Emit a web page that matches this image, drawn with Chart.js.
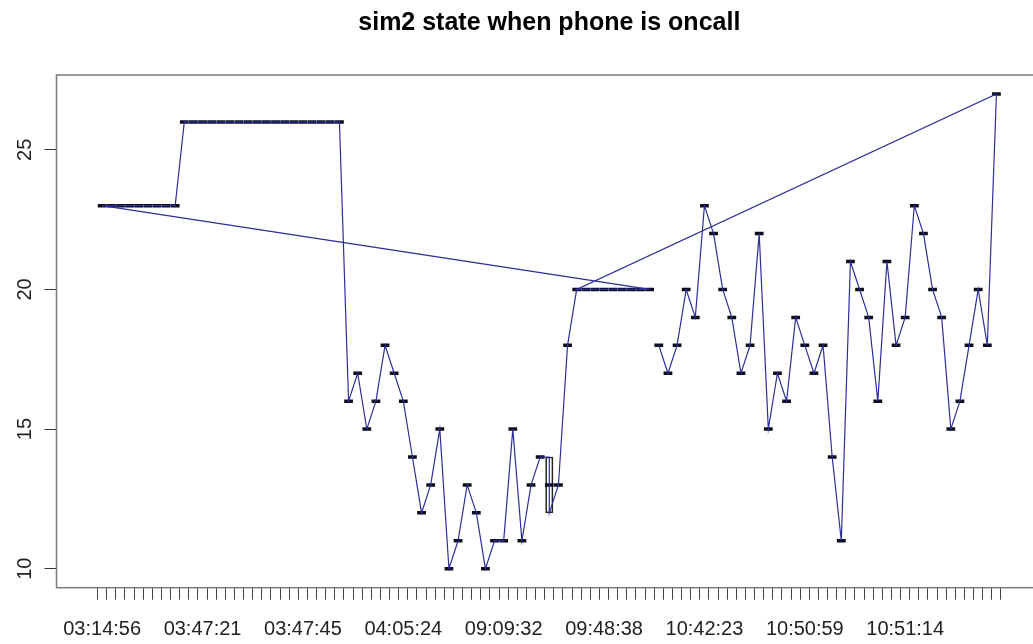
<!DOCTYPE html>
<html>
<head>
<meta charset="utf-8">
<script src="https://cdn.jsdelivr.net/npm/chart.js@4.4.1/dist/chart.umd.min.js"></script>
<style>
  html, body { margin: 0; padding: 0; background: #fff; overflow: hidden; }
  #wrap { width: 1050px; height: 644px; }
</style>
</head>
<body>
<div id="wrap"><canvas id="c" width="1050" height="644"></canvas></div>
<script>
// Timestamp factor: 99 levels, only some of them carry a printed label
const levelCount = 99;
const tickLabels = {
  1: '03:14:56', 12: '03:47:21', 23: '03:47:45', 34: '04:05:24', 45: '09:09:32',
  56: '09:48:38', 67: '10:42:23', 78: '10:50:59', 89: '10:51:14'
};
const yTicks = [10, 15, 20, 25];

// Observations in recorded order: timestamp level and sim2 signal value
const obsLevel = [
  62, 63, 64, 65, 66, 67, 68, 69, 70, 71, 72, 73, 74, 75, 76, 77, 78, 79, 80,
  81, 82, 83, 84, 85, 86, 87, 88, 89, 90, 91, 92, 93, 94, 95, 96, 97, 98, 99,
  53, 54, 55, 56, 57, 58, 59, 60, 61,
  1, 2, 3, 4, 5, 6, 7, 8, 9, 10, 11, 12, 13, 14, 15, 16, 17, 18, 19, 20,
  21, 22, 23, 24, 25, 26, 27, 28, 29, 30, 31, 32, 33, 34, 35, 36, 37, 38, 39,
  40, 41, 42, 43, 44, 45, 46, 47, 48, 49, 50, 50, 51, 52, 53
];
const obsValue = [
  18, 17, 18, 20, 19, 23, 22, 20, 19, 17, 18, 22, 15, 17, 16, 19, 18, 17, 18,
  14, 11, 21, 20, 19, 16, 21, 18, 19, 23, 22, 20, 19, 15, 16, 18, 20, 18, 27,
  20, 20, 20, 20, 20, 20, 20, 20, 20,
  23, 23, 23, 23, 23, 23, 23, 23, 23, 26, 26, 26, 26, 26, 26, 26, 26, 26, 26,
  26, 26, 26, 26, 26, 26, 26, 26, 16, 17, 15, 16, 18, 17, 16, 14, 12, 13, 15,
  10, 11, 13, 12, 10, 11, 11, 15, 11, 13, 14, 14, 12, 13, 18, 20
];

// ---- boxplot statistics per level (Tukey five-number summary) ----
function fivenum(vals) {
  const s = vals.slice().sort((a, b) => a - b);
  const n = s.length;
  const n4 = Math.floor((n + 3) / 2) / 2;
  const idx = [1, n4, (n + 1) / 2, n + 1 - n4, n];
  return idx.map(d => 0.5 * (s[Math.floor(d) - 1] + s[Math.ceil(d) - 1]));
}
const byLevel = {};
obsLevel.forEach((lv, i) => { (byLevel[lv] = byLevel[lv] || []).push(obsValue[i]); });
const medianPts = [];
const boxSpans = [];
Object.keys(byLevel).forEach(k => {
  const f = fivenum(byLevel[k]);
  medianPts.push({ x: +k, y: f[2] });
  if (f[3] > f[1]) boxSpans.push({ x: +k, y: [f[1], f[3]] });
});

// ---- axis ranges, extended 4% on each side ----
const lo = Math.min(...obsValue), hi = Math.max(...obsValue);
const yMin = lo - 0.04 * (hi - lo), yMax = hi + 0.04 * (hi - lo);
const xMin = 0.5 - 0.04 * levelCount, xMax = levelCount + 0.5 + 0.04 * levelCount;

const plotLeft = 56.5, unitPx = 9.22, plotBottom = 587.7;
const plotRight = plotLeft + unitPx * (xMax - xMin);
const FONT = "'Liberation Sans', Arial, Helvetica, sans-serif";

// Plot frame and rotated y labels
const frame = {
  id: 'frame',
  afterDraw(chart) {
    const { ctx, chartArea: a } = chart;
    ctx.save();
    ctx.strokeStyle = '#7a7a7a';
    ctx.lineWidth = 1.5;
    ctx.strokeRect(a.left, a.top, a.right - a.left, a.bottom - a.top);
    const ys = chart.scales.y;
    ctx.fillStyle = '#222';
    ctx.font = '20px ' + FONT;
    ctx.textAlign = 'center';
    ctx.textBaseline = 'alphabetic';
    ys.ticks.forEach(t => {
      const py = ys.getPixelForValue(t.value);
      ctx.save();
      ctx.translate(31, py);
      ctx.rotate(-Math.PI / 2);
      ctx.fillText(String(t.value), 0, 0);
      ctx.restore();
    });
    ctx.restore();
  }
};

new Chart(document.getElementById('c'), {
  type: 'scatter',
  data: {
    datasets: [
      {
        type: 'scatter',
        label: 'sim2',
        data: obsLevel.map((lv, i) => ({ x: lv, y: obsValue[i] })),
        showLine: true,
        borderColor: '#2e2e98',
        borderWidth: 1.2,
        pointRadius: 0,
        tension: 0,
        order: 0
      },
      {
        type: 'scatter',
        label: 'median',
        data: medianPts,
        showLine: false,
        pointStyle: 'line',
        pointRadius: 0.4 * unitPx + 0.7,
        pointBorderWidth: 3.5,
        pointBorderColor: '#0c0c1c',
        pointBackgroundColor: '#0c0c1c',
        order: 1
      },
      {
        type: 'bar',
        label: 'box',
        data: boxSpans,
        backgroundColor: 'rgba(255,255,255,0)',
        borderColor: '#222',
        borderWidth: 1,
        borderSkipped: false,
        barThickness: 0.8 * unitPx,
        order: 2
      }
    ]
  },
  options: {
    responsive: false,
    animation: false,
    devicePixelRatio: 1,
    layout: { padding: { left: 0, right: 1050 - plotRight, top: 0, bottom: 0 } },
    plugins: {
      legend: { display: false },
      tooltip: { enabled: false },
      title: {
        display: true,
        fullSize: false,
        text: 'sim2 state when phone is oncall',
        color: '#000',
        font: { family: FONT, size: 25, weight: 'bold', lineHeight: 1.2 },
        padding: { top: 8, bottom: 75 - 8 - 30 }
      }
    },
    scales: {
      x: {
        type: 'linear',
        position: 'bottom',
        min: xMin,
        max: xMax,
        afterBuildTicks(s) {
          const t = [];
          for (let i = 1; i <= levelCount; i++) t.push({ value: i });
          s.ticks = t;
        },
        afterFit(s) { s.height = 644 - plotBottom; },
        ticks: {
          autoSkip: false,
          maxRotation: 0,
          minRotation: 0,
          padding: 18,
          color: '#222',
          font: { family: FONT, size: 20 },
          callback: v => tickLabels[v] || ''
        },
        grid: { drawOnChartArea: false, drawTicks: true, tickLength: 12, color: '#444', lineWidth: 1 },
        border: { display: false }
      },
      y: {
        type: 'linear',
        position: 'left',
        min: yMin,
        max: yMax,
        afterBuildTicks(s) { s.ticks = yTicks.map(v => ({ value: v })); },
        afterFit(s) { s.width = plotLeft; },
        ticks: { display: false },
        grid: { drawOnChartArea: false, drawTicks: true, tickLength: 12, color: '#333', lineWidth: 1 },
        border: { display: false }
      }
    }
  },
  plugins: [frame]
});
</script>
</body>
</html>
